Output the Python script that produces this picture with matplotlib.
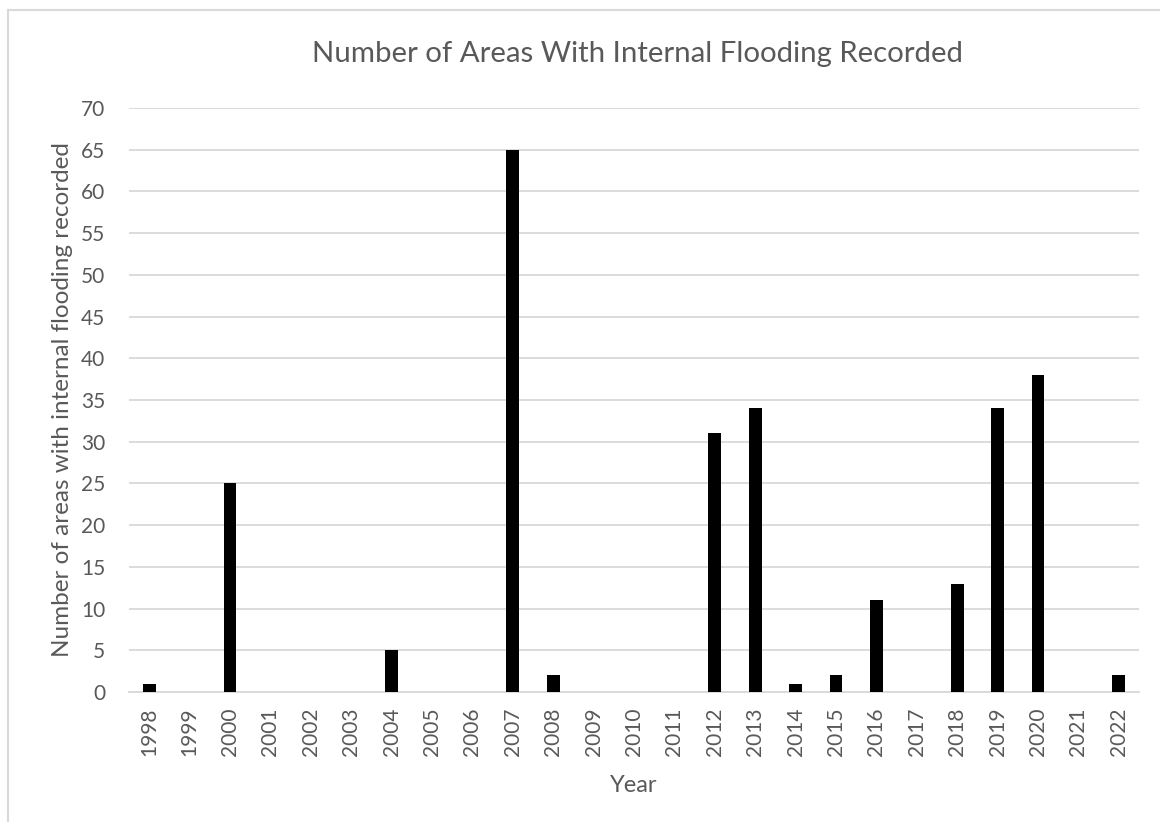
import numpy as np
import matplotlib
matplotlib.use("Agg")
import matplotlib.pyplot as plt
from matplotlib.lines import Line2D

# Data
years = ["1998", "1999", "2000", "2001", "2002", "2003", "2004", "2005", "2006",
         "2007", "2008", "2009", "2010", "2011", "2012", "2013", "2014", "2015",
         "2016", "2017", "2018", "2019", "2020", "2021", "2022"]
areas = [1, 0, 25, 0, 0, 0, 5, 0, 0, 65, 2, 0, 0, 0, 31, 34, 1, 2, 11, 0, 13, 34, 38, 0, 2]
y_ticks = list(range(0, 75, 5))

text_col = "#595959"
grid_col = "#d9d9d9"

plt.rcParams['font.family'] = ['Lato', 'DejaVu Sans']

W, H = 1160, 822
fig = plt.figure(figsize=(W / 100, H / 100), dpi=100)
ax = fig.add_axes([129 / W, 1 - 692 / H, (1139 - 129) / W, (692 - 108) / H])

x = np.arange(len(years))
ax.bar(x, areas, width=0.32, color="black", zorder=3)

ax.set_xlim(-0.5, len(years) - 0.5)
ax.set_ylim(0, 70)
ax.set_yticks(y_ticks)
ax.set_xticks(x)
ax.set_xticklabels(years, rotation=90)

# Excel-ish styling: light horizontal gridlines, no spines
ax.grid(axis="y", color=grid_col, linewidth=1.3, zorder=0)
for s in ["top", "right", "left"]:
    ax.spines[s].set_visible(False)
ax.spines["bottom"].set_color(grid_col)
ax.spines["bottom"].set_linewidth(1.3)
ax.tick_params(axis="both", length=0, labelsize=15, colors=text_col, pad=11)
ax.tick_params(axis="y", pad=17)

ax.set_xlabel("Year", fontsize=17, color=text_col, labelpad=14)
ax.set_ylabel("Number of areas with internal flooding recorded", fontsize=17.5,
              color=text_col, labelpad=6)

# title sits centred over the plot area, not the whole figure
fig.text(638 / W, 1 - 54 / H, "Number of Areas With Internal Flooding Recorded",
         ha="center", va="center", fontsize=21.2, color=text_col)

# chart area border (only left and top visible in the crop)
fig.add_artist(Line2D([8 / W, 8 / W], [0, 1 - 10 / H], color=grid_col, linewidth=1.5))
fig.add_artist(Line2D([8 / W, 1], [1 - 10 / H, 1 - 10 / H], color=grid_col, linewidth=1.5))

fig.savefig("out.png", dpi=100)
